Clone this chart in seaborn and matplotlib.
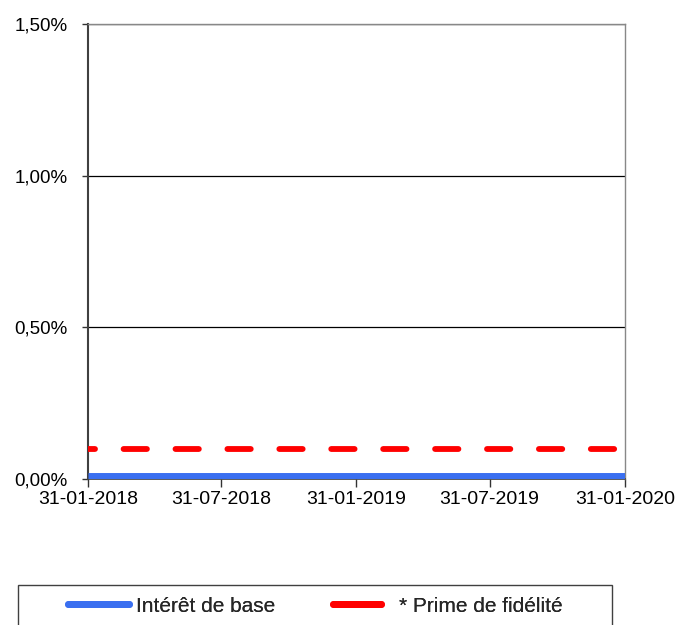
import matplotlib
matplotlib.use("Agg")
import matplotlib.pyplot as plt
from matplotlib.patches import Rectangle
from matplotlib.lines import Line2D
from matplotlib.ticker import FuncFormatter, MultipleLocator
import pandas as pd
import seaborn as sns

# Rates (in %) over the period
dates = ["2018-01-31", "2018-07-31", "2019-01-31", "2019-07-31", "2020-01-31"]
interet_de_base = [0.01, 0.01, 0.01, 0.01, 0.01]
prime_de_fidelite = [0.10, 0.10, 0.10, 0.10, 0.10]
tick_dates = ["31-01-2018", "31-07-2018", "31-01-2019", "31-07-2019", "31-01-2020"]
series_labels = ["Intérêt de base", "* Prime de fidélité"]

BLUE = "#3a6ff0"
RED = "#ff0000"

sns.set_theme(style="white")
plt.rcParams["font.family"] = ["Liberation Sans", "DejaVu Sans"]

df = pd.DataFrame({
    "date": pd.to_datetime(dates),
    "base": interet_de_base,
    "prime": prime_de_fidelite,
})

fig = plt.figure(figsize=(6.8, 6.25), dpi=100)
ax = fig.add_axes([88 / 680, 1 - 479 / 625, (625 - 88) / 680, (479 - 24) / 625])

sns.lineplot(data=df, x="date", y="prime", ax=ax, color=RED, lw=4.2,
             linestyle=(2.8, (4.0, 4.9)), dash_capstyle="round", zorder=3)
sns.lineplot(data=df, x="date", y="base", ax=ax, color=BLUE, lw=5,
             solid_capstyle="butt", zorder=4)

ax.set_xlim(pd.Timestamp(dates[0]), pd.Timestamp(dates[-1]))
ax.set_ylim(0, 1.5)
ax.yaxis.set_major_locator(MultipleLocator(0.5))
ax.yaxis.set_major_formatter(FuncFormatter(lambda v, p: f"{v:.2f}%".replace(".", ",")))
ax.set_xticks(pd.to_datetime(tick_dates, format="%d-%m-%Y"))
ax.set_xticklabels(tick_dates)
ax.set_xlabel("")
ax.set_ylabel("")

ax.grid(axis="y", color="black", lw=0.9)
ax.grid(axis="x", visible=False)
ax.set_axisbelow(True)
ax.tick_params(axis="x", which="major", bottom=True, direction="out", length=5.5,
               width=1, color="#333333", labelsize=14, labelcolor="black", pad=3)
ax.tick_params(axis="y", which="major", left=True, direction="out", length=4.5,
               width=1, color="#333333", labelsize=13.5, labelcolor="black", pad=10)

ax.spines["left"].set_color("#404040")
ax.spines["left"].set_linewidth(1.5)
ax.spines["bottom"].set_color("#404040")
ax.spines["bottom"].set_linewidth(1.2)
ax.spines["top"].set_color("#888888")
ax.spines["top"].set_linewidth(1.0)
ax.spines["right"].set_color("#888888")
ax.spines["right"].set_linewidth(1.0)

# Legend frame, running off the bottom edge
fig.patches.append(Rectangle((18 / 680, -0.05), (612 - 18) / 680, (1 - 585 / 625) + 0.05,
                             transform=fig.transFigure, fill=False,
                             edgecolor="#404040", lw=1.0))

# One legend entry per series so each key gets its own length
entries = [
    (BLUE, series_labels[0], 67.5, 2.95, 0.33),
    (RED, series_labels[1], 332.5, 2.35, 0.85),
]
for color, label, x0, hlen, hpad in entries:
    h = Line2D([], [], color=color, lw=5, solid_capstyle="round")
    leg = fig.legend([h], [label], loc="center left",
                     bbox_to_anchor=(x0 / 680, 1 - 606 / 625),
                     frameon=False, fontsize=15, handlelength=hlen,
                     handletextpad=hpad, borderpad=0, borderaxespad=0)
    fig.add_artist(leg)

fig.savefig("out.png", dpi=100)
